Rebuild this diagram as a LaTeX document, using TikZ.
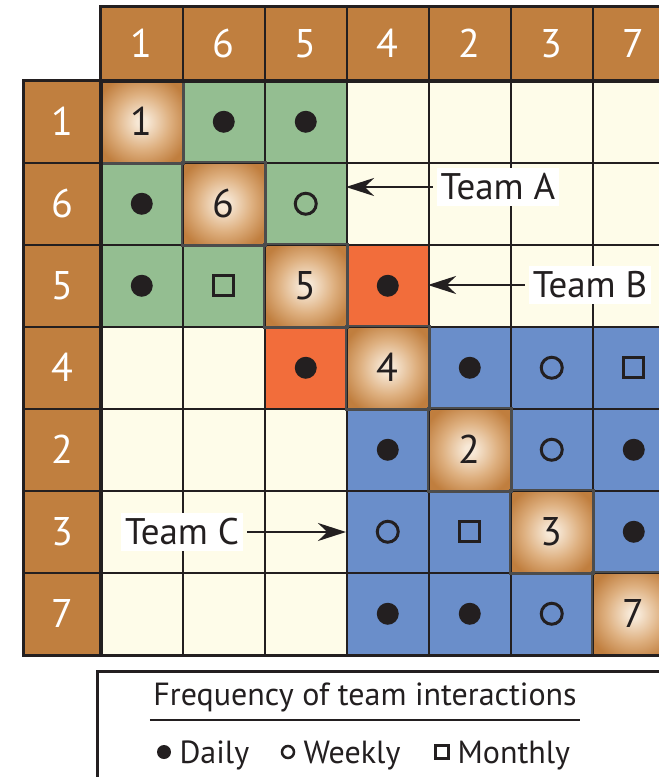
\documentclass[tikz,border=0pt]{standalone}
\usepackage{fontspec}
\setmainfont{PT Sans}
\usetikzlibrary{arrows.meta,calc}

\definecolor{headBrown}{RGB}{192,127,63}
\definecolor{teamGreen}{RGB}{148,190,145}
\definecolor{teamOrange}{RGB}{242,109,59}
\definecolor{teamBlue}{RGB}{106,142,202}
\definecolor{cellCream}{RGB}{254,252,233}
\definecolor{diagIn}{RGB}{247,232,214}
\definecolor{diagMid}{RGB}{222,176,128}
\definecolor{diagOut}{RGB}{192,126,62}
\definecolor{inkBlack}{RGB}{35,31,32}
\pgfdeclareradialshading{diagShade}{\pgfpoint{0bp}{0bp}}{color(0bp)=(diagIn); color(3bp)=(diagIn); color(17bp)=(diagMid); color(30bp)=(diagOut); color(50bp)=(diagOut)}

\newcommand{\bigDigits}{\fontsize{40}{48}\selectfont}
\newcommand{\teamFont}{\fontsize{37}{44}\selectfont}
\newcommand{\keyFont}{\fontsize{32}{38}\selectfont}

\begin{document}
\begin{tikzpicture}
[x=1pt,y=-1pt,
  cellDecorate/.style={shape=rectangle,draw=inkBlack,line width=1.5pt,
    minimum size=82pt,inner sep=0pt,anchor=north west},
  creamCell/.style={cellDecorate,fill=cellCream},
  greenCell/.style={cellDecorate,fill=teamGreen},
  orangeCell/.style={cellDecorate,fill=teamOrange},
  blueCell/.style={cellDecorate,fill=teamBlue},
  diagCell/.style={cellDecorate,shading=diagShade},
  diagEdge/.style={draw=black!70,line width=2.5pt},
  headDecorate/.style={shape=rectangle,draw=inkBlack,line width=1.5pt,fill=headBrown,
    inner sep=0pt,anchor=north west,text=white,font=\bigDigits},
  daily/.style={shape=circle,fill=inkBlack,minimum size=22pt,inner sep=0pt},
  weekly/.style={shape=circle,draw=inkBlack,line width=3pt,minimum size=21pt,inner sep=0pt},
  monthly/.style={shape=rectangle,draw=inkBlack,line width=3pt,minimum size=20pt,inner sep=0pt},
  teamDecorate/.style={fill=white,inner xsep=4pt,inner ysep=6pt,font=\teamFont,text=inkBlack},
  arrowDecorate/.style={-{Stealth[length=28pt,width=18pt]},line width=2pt,draw=inkBlack},
  frameDecorate/.style={draw=inkBlack,line width=3pt}]
\useasboundingbox (0,0) rectangle (659,777);
\clip (0,0) rectangle (659,777);
\fill[white] (0,0) rectangle (659,777);

%% matrix cells, one row at a time
\foreach \r/\fills in {
  1/{diagCell,greenCell,greenCell,creamCell,creamCell,creamCell,creamCell},
  2/{greenCell,diagCell,greenCell,creamCell,creamCell,creamCell,creamCell},
  3/{greenCell,greenCell,diagCell,orangeCell,creamCell,creamCell,creamCell},
  4/{creamCell,creamCell,orangeCell,diagCell,blueCell,blueCell,blueCell},
  5/{creamCell,creamCell,creamCell,blueCell,diagCell,blueCell,blueCell},
  6/{creamCell,creamCell,creamCell,blueCell,blueCell,diagCell,blueCell},
  7/{creamCell,creamCell,creamCell,blueCell,blueCell,blueCell,diagCell}}
{
  \foreach \f [count=\c] in \fills
  {
    \node (m\r\c) at ({100+(\c-1)*82},{80+(\r-1)*82}) [\f] {};
  }
}
\foreach \i in {1,...,7}
{
  \draw[diagEdge] (m\i\i.north west) rectangle (m\i\i.south east);
}

%% team numbers: column heads, row heads, diagonal
\foreach \lab [count=\i] in {1,6,5,4,2,3,7}
{
  \node (h\i) at ({100+(\i-1)*82},6) [headDecorate,minimum width=82pt,minimum height=74pt] {\lab};
  \node (v\i) at (23,{80+(\i-1)*82}) [headDecorate,minimum width=77pt,minimum height=82pt] {\lab};
  \node (d\i) at (m\i\i) [font=\bigDigits,text=inkBlack] {\lab};
}

%% interaction marks
\foreach \r/\c/\mk in {1/2/daily, 1/3/daily, 2/1/daily, 2/3/weekly,
  3/1/daily, 3/2/monthly, 3/4/daily, 4/3/daily, 4/5/daily, 4/6/weekly,
  4/7/monthly, 5/4/daily, 5/6/weekly, 5/7/daily, 6/4/weekly, 6/5/monthly,
  6/7/daily, 7/4/daily, 7/5/daily, 7/6/weekly}
{
  \node (k\r\c) at (m\r\c) [\mk] {};
}

%% outer frames
\draw[frameDecorate] (h1.north west) rectangle (h7.south east);
\draw[frameDecorate] (v1.north west) rectangle (v7.south east);
\draw[frameDecorate] (m11.north west) rectangle (m77.south east);

%% team callouts
\node (teamA) at (498,187) [teamDecorate] {Team A};
\node (teamB) at (590,285) [teamDecorate] {Team B};
\node (teamC) at (182,532) [teamDecorate] {Team C};
\draw[arrowDecorate,shorten <=4pt] (teamA.west) -- (teamA.west -| m24.west);
\draw[arrowDecorate,shorten <=4pt] (teamB.west) -- (teamB.west -| m35.west);
\draw[arrowDecorate,shorten <=4pt] (teamC.east) -- (teamC.east -| m64.west);

%% legend
\draw[frameDecorate] (97,671) rectangle (720,830);
\node (keyTitle) at (365,705) [anchor=base,font=\keyFont,text=inkBlack] {Frequency of team interactions};
\draw[line width=1.5pt,inkBlack] ([yshift=-5pt]keyTitle.south west) -- ([yshift=-5pt]keyTitle.south east);
\node (keyDaily) at (164,752) [daily,minimum size=14pt] {};
\node (txtDaily) at (176,763) [anchor=base west,font=\keyFont,text=inkBlack] {Daily};
\node (keyWeekly) at (288,752) [weekly,minimum size=12pt,line width=2.5pt] {};
\node (txtWeekly) at (300,763) [anchor=base west,font=\keyFont,text=inkBlack] {Weekly};
\node (keyMonthly) at (442,752) [monthly,minimum size=13pt,line width=2.5pt] {};
\node (txtMonthly) at (454,763) [anchor=base west,font=\keyFont,text=inkBlack] {Monthly};
\end{tikzpicture}
\end{document}
